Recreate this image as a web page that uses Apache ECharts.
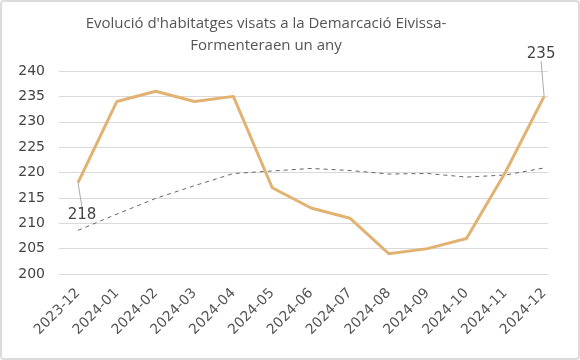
<!DOCTYPE html>
<html><head><meta charset="utf-8">
<script src="https://cdn.jsdelivr.net/npm/echarts@6/dist/echarts.min.js"></script>
<style>
html,body{margin:0;padding:0;background:#fff;}
#frame{position:absolute;left:0;top:0;width:576px;height:356px;border:2px solid #dcdcdc;border-radius:4px;}
#c{width:580px;height:360px;position:absolute;left:0;top:0;}
</style></head>
<body><div id="frame"></div><div id="c"></div>
<script>
var categories = ['2023-12','2024-01','2024-02','2024-03','2024-04','2024-05','2024-06','2024-07','2024-08','2024-09','2024-10','2024-11','2024-12'];
var visats = [218,234,236,234,235,217,213,211,204,205,207,220,235];
var mitjana = [208.6,211.8,214.9,217.4,219.8,220.3,220.8,220.4,219.7,219.8,219.1,219.5,220.9];
var yTicks = [200,205,210,215,220,225,230,235,240];

var chart = echarts.init(document.getElementById('c'));
var font = 'DejaVu Sans';
function pairs(arr){ return arr.map(function(v,i){ return [i,v]; }); }
var mainData = pairs(visats);
chart.setOption({
  animation:false,
  title:{text:"Evolució d'habitatges visats a la Demarcació Eivissa-\nFormenteraen un any",left:261,top:8,textAlign:'center',
    textStyle:{fontFamily:'Open Sans',fontSize:15,fontWeight:'normal',color:'#555',lineHeight:22}},
  grid:{left:59,right:32,top:71,bottom:86},
  xAxis:{type:'value',min:-0.49,max:12.1,
    axisLine:{show:false},axisTick:{show:false},splitLine:{show:false},
    axisLabel:{customValues:categories.map(function(c,i){return i;}),rotate:45,margin:17,
      fontFamily:font,fontSize:14,color:'#555',
      formatter:function(v){return categories[Math.round(v)];}}},
  yAxis:{type:'value',min:200,max:240,interval:5,
    axisLine:{show:false},axisTick:{show:false},
    splitLine:{lineStyle:{color:'#d9d9d9',width:1}},
    axisLabel:{margin:14,fontFamily:font,fontSize:14,color:'#444',
      formatter:function(v){return yTicks.indexOf(v)>=0?String(v):'';}}},
  series:[
    {type:'line',data:pairs(mitjana),symbol:'none',z:2,
     lineStyle:{color:'#666',width:1,type:[4,4]}},
    {type:'line',symbol:'circle',symbolSize:0.1,z:3,
     itemStyle:{color:'rgba(0,0,0,0)'},
     lineStyle:{color:'#E2B272',width:3},
     data:mainData.map(function(d,i){
       if(i===0) return {value:d,label:{show:true,position:'bottom',distance:25}};
       if(i===12) return {value:d,label:{show:true,position:'top',distance:35}};
       return {value:d};
     }),
     label:{show:false,fontFamily:font,fontSize:15,color:'#444',
       formatter:function(p){return String(p.value[1]);}},
     labelLine:{show:true,lineStyle:{color:'#aaa',width:1}},
     labelLayout:function(p){
       if(p.dataIndex===0) return {dx:4};
       if(p.dataIndex===12) return {dx:-3};
       return {};
     }}
  ]
});
</script></body></html>
